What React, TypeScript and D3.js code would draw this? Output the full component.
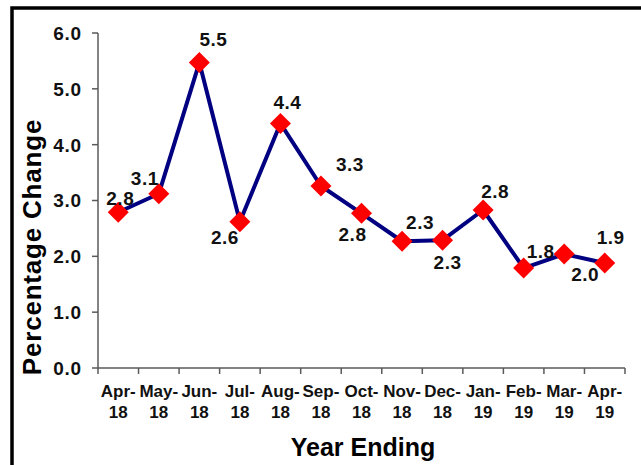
import React from "react";
import * as d3 from "d3";

const categories = ["Apr-18","May-18","Jun-18","Jul-18","Aug-18","Sep-18","Oct-18","Nov-18","Dec-18","Jan-19","Feb-19","Mar-19","Apr-19"];
const values = [2.79, 3.12, 5.47, 2.62, 4.38, 3.26, 2.77, 2.27, 2.29, 2.83, 1.79, 2.04, 1.88];
const yTicks = [0, 1, 2, 3, 4, 5, 6];
// label offsets relative to each marker (layout only)
const labelOffsets: [number, number][] = [
  [2, -14], [-14, -16], [14, -23], [-15, 15], [7, -21], [29, -22], [-9, 21],
  [18, -19], [5, 22], [12, -19], [17, -17], [21, 20], [6, -26],
];

const W = 641, H = 465;
const left = 98, right = 625, top = 33, bottom = 368;
const FONT = "'Liberation Sans', Arial, sans-serif";

export default function App() {
  const x = d3.scaleBand<string>().domain(categories).range([left, right]).padding(0);
  const y = d3.scaleLinear().domain([0, 6]).range([bottom, top]);
  const cx = (c: string) => (x(c) as number) + x.bandwidth() / 2;
  const line = d3.line<number>().x((_, i) => cx(categories[i])).y((v) => y(v));
  const r = 10.5;
  const axisColor = "#5a5a5a";
  const tickEdges = categories.map((c) => x(c) as number).concat([right]);

  return (
    <svg width={W} height={H} style={{ position: "absolute", left: 0, top: 0, background: "#fff" }} fontFamily={FONT}>
      <rect x={0} y={0} width={W} height={H} fill="#fff" />
      <rect x={12} y={8} width={W + 50} height={H + 50} fill="none" stroke="#000" strokeWidth={3.5} />
      {/* y axis */}
      <line x1={left} x2={left} y1={top} y2={bottom} stroke={axisColor} strokeWidth={1.5} />
      {yTicks.map((t) => (
        <g key={t}>
          <line x1={left - 6} x2={left} y1={y(t)} y2={y(t)} stroke={axisColor} strokeWidth={1.5} />
          <text x={82} y={y(t)} dy="0.36em" textAnchor="end" fontSize={19} fontWeight="bold" letterSpacing={0.8} fill="#111">
            {t.toFixed(1)}
          </text>
        </g>
      ))}
      {/* x axis */}
      <line x1={left} x2={right} y1={bottom} y2={bottom} stroke={axisColor} strokeWidth={1.5} />
      {tickEdges.map((tx, i) => (
        <line key={i} x1={tx} x2={tx} y1={bottom} y2={bottom + 6} stroke={axisColor} strokeWidth={1.5} />
      ))}
      {categories.map((c) => {
        const [m, yr] = c.split("-");
        return (
          <g key={c}>
            <text x={cx(c)} y={391} dy="0.36em" textAnchor="middle" fontSize={17} fontWeight="bold" fill="#111">{m + "-"}</text>
            <text x={cx(c)} y={412} dy="0.36em" textAnchor="middle" fontSize={17} fontWeight="bold" fill="#111">{yr}</text>
          </g>
        );
      })}
      {/* titles */}
      <text x={363} y={447} dy="0.36em" textAnchor="middle" fontSize={25} fontWeight="bold" fill="#000">Year Ending</text>
      <text transform={`translate(32,247) rotate(-90)`} dy="0.36em" textAnchor="middle" fontSize={26} fontWeight="bold" letterSpacing={0.8} fill="#000">Percentage Change</text>
      {/* series */}
      <path d={line(values) as string} fill="none" stroke="#000080" strokeWidth={4} strokeLinejoin="round" />
      {values.map((v, i) => {
        const px = cx(categories[i]);
        const py = y(v);
        return (
          <path key={i} d={`M${px},${py - r}L${px + r},${py}L${px},${py + r}L${px - r},${py}Z`} fill="#ff0000" />
        );
      })}
      {values.map((v, i) => (
        <text key={i} x={cx(categories[i]) + labelOffsets[i][0]} y={y(v) + labelOffsets[i][1]} dy="0.36em" textAnchor="middle" fontSize={19} fontWeight="bold" letterSpacing={0.5} fill="#111">
          {v.toFixed(1)}
        </text>
      ))}
    </svg>
  );
}
